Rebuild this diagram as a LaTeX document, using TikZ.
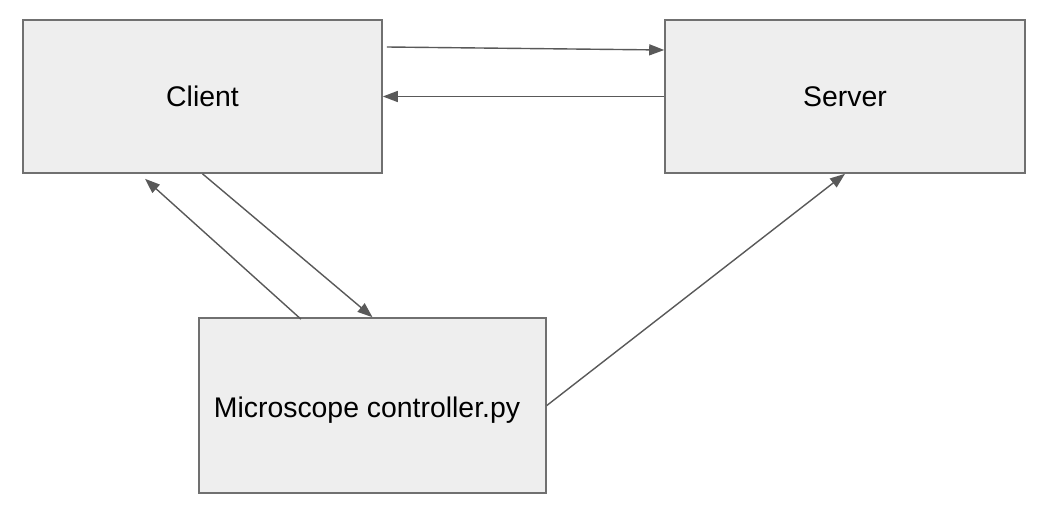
\documentclass[tikz,border=0pt]{standalone}
\usepackage{fontspec}
\setmainfont{Liberation Sans}
\usetikzlibrary{arrows.meta}
\definecolor{boxfill}{HTML}{EEEEEE}
\definecolor{boxline}{HTML}{707070}
\definecolor{arrowc}{HTML}{595959}
\tikzset{
  box/.style={draw=boxline, fill=boxfill, line width=0.8pt, inner sep=0pt, font=\fontsize{14.2}{17}\selectfont},
  lbl/.style={inner sep=0pt, font=\fontsize{14.2}{17}\selectfont},
  arr/.style={draw=arrowc, line width=0.7pt, -{Triangle[length=7.5pt,width=5.5pt]}}
}
\begin{document}
\begin{tikzpicture}[x=0.5pt,y=-0.5pt]
\useasboundingbox[fill=white] (0,0) rectangle (1048,508);
\node[box, minimum width=179.5pt, minimum height=76.5pt] (client) at (202.5,96.5) {Client};
\node[box, minimum width=180pt, minimum height=76.5pt] (server) at (845,96.5) {Server};
\node[box, minimum width=173.5pt, minimum height=87.5pt] (mc) at (372.5,405.5) {};
\node[lbl] (mclabel) at (367,410) {Microscope controller.py};
\draw[arr] ([xshift=2pt,yshift=24.75pt]client.east) -- ([yshift=23.25pt]server.west);
\draw[arr] (server.west) -- (client.east);
\draw[arr] ([xshift=-35.75pt,yshift=-1pt]mc.north) -- ([xshift=-28.75pt,yshift=-2.5pt]client.south);
\draw[arr] (client.south) -- (mc.north);
\draw[arr] (mc.east) -- (server.south);
\end{tikzpicture}
\end{document}
